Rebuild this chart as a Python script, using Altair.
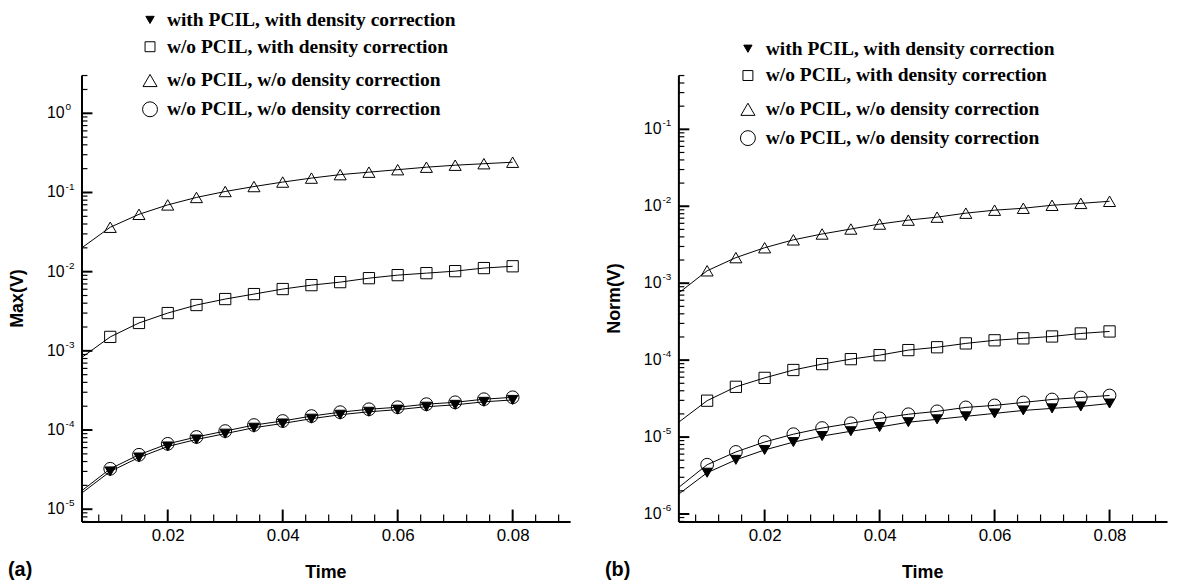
import altair as alt
import pandas as pd

# ---------------- data ----------------
T = [0.005, 0.01, 0.015, 0.02, 0.025, 0.03, 0.035, 0.04, 0.045,
     0.05, 0.055, 0.06, 0.065, 0.07, 0.075, 0.08]

SERIES = ["A", "B", "C", "D"]
LABELS = ["with PCIL, with density correction",
          "w/o PCIL, with density correction",
          "w/o PCIL, w/o density correction",
          "w/o PCIL, w/o density correction"]

# panel (a): Max(V)
MAX_A = [1.59e-5, 3.0e-5, 4.5e-5, 6.2e-5, 7.6e-5, 9.0e-5, 1.07e-4, 1.21e-4,
         1.39e-4, 1.56e-4, 1.70e-4, 1.81e-4, 1.97e-4, 2.08e-4, 2.27e-4, 2.40e-4]
MAX_B = [8.2e-4, 1.5e-3, 2.25e-3, 3.0e-3, 3.79e-3, 4.51e-3, 5.21e-3, 6.03e-3,
         6.76e-3, 7.38e-3, 8.28e-3, 9.04e-3, 9.58e-3, 1.015e-2, 1.11e-2, 1.17e-2]
MAX_C = [0.0199, 0.0364, 0.0530, 0.0697, 0.0866, 0.1029, 0.1189, 0.1354,
         0.1520, 0.1681, 0.1806, 0.1941, 0.2087, 0.2211, 0.2309, 0.2411]
MAX_D = [1.70e-5, 3.24e-5, 4.87e-5, 6.69e-5, 8.17e-5, 9.7e-5, 1.156e-4, 1.30e-4,
         1.50e-4, 1.68e-4, 1.83e-4, 1.94e-4, 2.12e-4, 2.24e-4, 2.45e-4, 2.59e-4]

# panel (b): Norm(V)
NORM_A = [1.8e-6, 3.44e-6, 5.06e-6, 6.8e-6, 8.6e-6, 1.03e-5, 1.19e-5, 1.35e-5,
          1.56e-5, 1.70e-5, 1.86e-5, 2.03e-5, 2.22e-5, 2.36e-5, 2.50e-5, 2.73e-5]
NORM_B = [1.55e-5, 2.97e-5, 4.5e-5, 5.88e-5, 7.44e-5, 8.88e-5, 1.03e-4, 1.16e-4,
          1.35e-4, 1.47e-4, 1.65e-4, 1.81e-4, 1.92e-4, 2.03e-4, 2.22e-4, 2.36e-4]
NORM_C = [7.4e-4, 1.45e-3, 2.15e-3, 2.89e-3, 3.66e-3, 4.36e-3, 5.06e-3, 5.87e-3,
          6.6e-3, 7.22e-3, 8.13e-3, 8.89e-3, 9.42e-3, 1.03e-2, 1.09e-2, 1.16e-2]
NORM_D = [2.2e-6, 4.37e-6, 6.41e-6, 8.63e-6, 1.09e-5, 1.31e-5, 1.51e-5, 1.75e-5,
          1.98e-5, 2.16e-5, 2.43e-5, 2.58e-5, 2.82e-5, 3.08e-5, 3.27e-5, 3.47e-5]

X_DOMAIN = [0.005, 0.09]
X_MAJOR = [0.02, 0.04, 0.06, 0.08]
X_MINOR = [0.008, 0.012, 0.016, 0.024, 0.028, 0.032, 0.036, 0.044, 0.048,
           0.052, 0.056, 0.064, 0.068, 0.072, 0.076, 0.084, 0.088]
MINOR_MULT = [2, 3, 4, 5, 6, 7, 8, 9]

Y_DOMAIN_A = [7.0e-6, 3.0]
Y_EXP_A = [-5, -4, -3, -2, -1, 0]
Y_DOMAIN_B = [8.0e-7, 0.5]
Y_EXP_B = [-6, -5, -4, -3, -2, -1]

# ---------------- style / layout ----------------
SHAPES = ["triangle-down", "square", "triangle-up", "circle"]
FILLS = ["black", "transparent", "transparent", "transparent"]
SIZES = [110, 165, 240, 220]
LEG_SIZES = [70, 100, 200, 225]
LEG_ROW_OFFSETS = [0, 27, 61, 90]

W, H = 492, 449
SANS = "Liberation Sans"
SERIF = "Liberation Serif"


def legend_layers(sym_x, text_x, y0):
    layers = []
    one = pd.DataFrame({"k": [0]})
    for i, s in enumerate(SERIES):
        yy = y0 + LEG_ROW_OFFSETS[i]
        layers.append(alt.Chart(one).mark_point(
            shape=SHAPES[i], size=LEG_SIZES[i], fill=FILLS[i], stroke="black",
            strokeWidth=1, opacity=1, filled=True).encode(
            x=alt.value(sym_x), y=alt.value(yy)))
        layers.append(alt.Chart(pd.DataFrame({"txt": [LABELS[i]]})).mark_text(
            align="left", baseline="middle", font=SERIF, fontWeight="bold",
            fontSize=19.6, color="black").encode(
            x=alt.value(text_x), y=alt.value(yy), text="txt:N"))
    return layers


def panel(vals, ydom, yexp, ytitle, tag, sym_x, text_x, leg_y0):
    rows = []
    for s, v in zip(SERIES, vals):
        for t, y in zip(T, v):
            rows.append({"t": t, "v": y, "s": s})
    df = pd.DataFrame(rows)

    xs = alt.Scale(domain=X_DOMAIN, nice=False, zero=False)
    ys = alt.Scale(type="log", domain=ydom, nice=False)
    xax = alt.Axis(values=X_MAJOR, format=".2f", ticks=False, tickSize=0, grid=False,
                   domainColor="black", domainWidth=2, labelFont=SANS, labelFontSize=17,
                   labelColor="black", labelPadding=6, title=None)
    yax = alt.Axis(labels=False, ticks=False, tickSize=0, grid=False,
                   domainColor="black", domainWidth=2, title=None)

    X = alt.X("t:Q", scale=xs, axis=xax)
    Y = alt.Y("v:Q", scale=ys, axis=yax)

    lines = alt.Chart(df).mark_line(color="black", strokeWidth=1).encode(
        x=X, y=Y, detail="s:N")

    pts = alt.Chart(df).transform_filter("datum.t > 0.0075").mark_point(
        filled=True, stroke="black", strokeWidth=1, opacity=1).encode(
        x=X, y=Y,
        shape=alt.Shape("s:N", scale=alt.Scale(domain=SERIES, range=SHAPES), legend=None),
        fill=alt.Fill("s:N", scale=alt.Scale(domain=SERIES, range=FILLS), legend=None),
        size=alt.Size("s:N", scale=alt.Scale(domain=SERIES, range=SIZES), legend=None),
    )

    xmaj = alt.Chart(pd.DataFrame({"t": X_MAJOR})).mark_rule(color="black", strokeWidth=2).encode(
        x=X, y=alt.value(H), y2=alt.value(H - 12))
    xmin = alt.Chart(pd.DataFrame({"t": X_MINOR})).mark_rule(color="black", strokeWidth=1.2).encode(
        x=X, y=alt.value(H), y2=alt.value(H - 7))

    major_vals = [10.0 ** e for e in yexp]
    minor_vals = [m * 10.0 ** e for e in range(min(yexp) - 1, max(yexp) + 1) for m in MINOR_MULT]
    minor_vals = [v for v in minor_vals if ydom[0] <= v <= ydom[1]]

    ymaj = alt.Chart(pd.DataFrame({"v": major_vals})).mark_rule(color="black", strokeWidth=2).encode(
        y=Y, x=alt.value(0), x2=alt.value(11))
    ymin = alt.Chart(pd.DataFrame({"v": minor_vals})).mark_rule(color="black", strokeWidth=1.2).encode(
        y=Y, x=alt.value(0), x2=alt.value(6))

    lab_df = pd.DataFrame({"v": major_vals, "e": [str(e) for e in yexp]})
    ybase = alt.Chart(lab_df).mark_text(align="right", baseline="middle", font=SANS,
                                        fontSize=16, color="black").encode(
        y=Y, x=alt.value(-17), text=alt.value("10"))
    yexpo = alt.Chart(lab_df).mark_text(align="left", baseline="middle", font=SANS,
                                        fontSize=10, color="black", dy=-6).encode(
        y=Y, x=alt.value(-16), text="e:N")

    yt = alt.Chart(pd.DataFrame({"txt": [ytitle]})).mark_text(
        angle=270, align="center", baseline="middle", font=SANS,
        fontSize=18, fontWeight="bold", color="black").encode(
        x=alt.value(-64), y=alt.value(H / 2), text="txt:N")
    xt = alt.Chart(pd.DataFrame({"txt": ["Time"]})).mark_text(
        align="center", baseline="alphabetic", font=SANS, fontSize=18, fontWeight="bold",
        color="black").encode(x=alt.value(W / 2), y=alt.value(H + 57), text="txt:N")
    tg = alt.Chart(pd.DataFrame({"txt": [tag]})).mark_text(
        align="left", baseline="alphabetic", font=SANS, fontSize=20, fontWeight="bold",
        color="black").encode(x=alt.value(-74), y=alt.value(H + 55), text="txt:N")

    layers = [lines, pts, xmaj, xmin, ymaj, ymin, ybase, yexpo, yt, xt, tg]
    layers += legend_layers(sym_x, text_x, leg_y0)
    return alt.layer(*layers).properties(width=W, height=H)


left = panel([MAX_A, MAX_B, MAX_C, MAX_D], Y_DOMAIN_A, Y_EXP_A, "Max(V)", "(a)", 69, 86, -56)
right = panel([NORM_A, NORM_B, NORM_C, NORM_D], Y_DOMAIN_B, Y_EXP_B, "Norm(V)", "(b)", 70, 88, -27)

chart = alt.hconcat(left, right, spacing=35).resolve_scale(
    x="independent", y="independent", shape="independent", fill="independent",
    size="independent").configure_view(stroke=None).properties(
    padding={"left": 0, "top": 0, "right": 5, "bottom": 5}, background="white")

chart.save("out.html", embed_options={"renderer": "svg", "actions": False})
